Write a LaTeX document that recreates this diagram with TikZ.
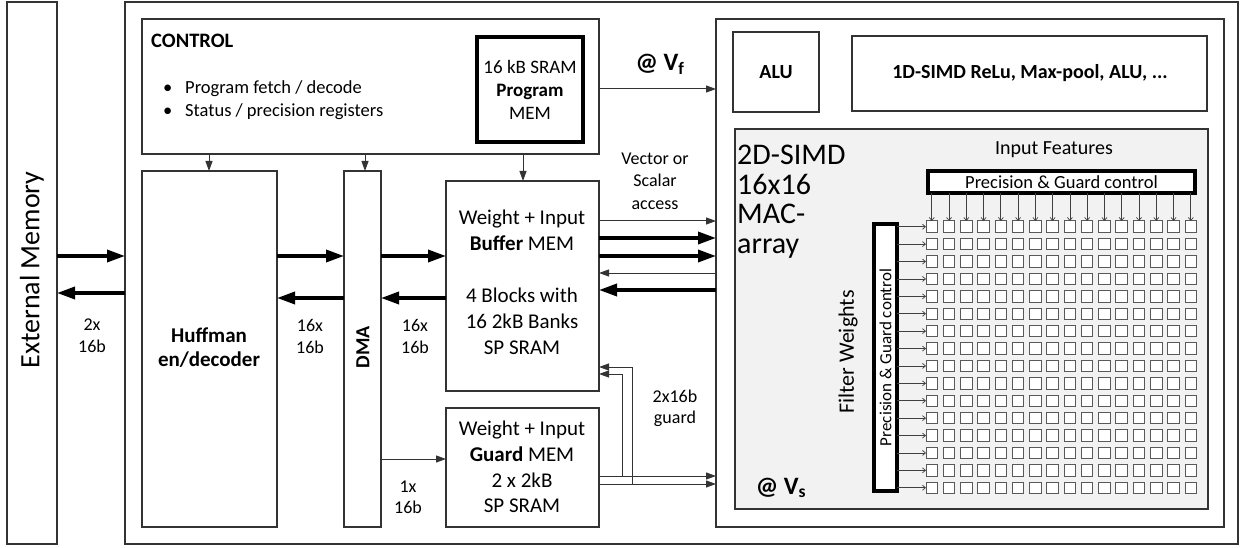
\documentclass[tikz,border=0pt]{standalone}
\usepackage{fontspec}
\setmainfont{Carlito}
\usetikzlibrary{arrows.meta}
\newcommand\fsz[2]{\fontsize{#1}{#2}\selectfont}
\definecolor{simdgray}{HTML}{F2F2F2}
\definecolor{linec}{HTML}{333333}
\begin{document}
\begin{tikzpicture}[x=1pt,y=-1pt,
  box/.style={draw=linec, line width=1.2pt, anchor=north west, inner sep=0pt, outer sep=0pt},
  thickbox/.style={draw=black, line width=4pt, anchor=north west, inner sep=0pt, outer sep=0pt, fill=white},
  txt/.style={inner sep=0pt, align=center},
  thin/.style={draw=linec, line width=1pt, -{Triangle[length=10pt,width=7pt]}},
  fat/.style={draw=black, line width=3.5pt, -{Triangle[length=18pt,width=12pt]}},
  garrow/.style={draw=black!75, line width=0.7pt, -{Straight Barb[length=3pt,width=5pt]}},
  cell/.style={draw=black!65, line width=1pt, fill=white, minimum size=11.5pt, inner sep=0pt, outer sep=0pt}
]
\useasboundingbox (0,0) rectangle (1245,548);
\fill[white] (0,0) rectangle (1245,548);

% main boxes
\node[box, minimum width=50pt, minimum height=542pt] (ext) at (7,2) {};
\node[box, minimum width=1113pt, minimum height=542pt] (main) at (125,2) {};
\node[box, minimum width=457pt, minimum height=135pt] (ctrl) at (142,19) {};
\node[thickbox, minimum width=106pt, minimum height=105pt] (prog) at (477,37) {};
\node[box, minimum width=135pt, minimum height=356pt] (huff) at (142,171) {};
\node[box, minimum width=37pt, minimum height=356pt] (dma) at (344,171) {};
\node[box, minimum width=153pt, minimum height=210pt] (buf) at (446,181) {};
\node[box, minimum width=153pt, minimum height=119pt] (guard) at (446,408) {};
\node[box, minimum width=508pt, minimum height=508pt] (right) at (716,19) {};
\node[box, minimum width=86pt, minimum height=80pt] (alu) at (733,32) {};
\node[box, minimum width=355pt, minimum height=75pt] (simdone) at (852,36) {};
\node[box, fill=simdgray, minimum width=473pt, minimum height=380pt] (simdtwo) at (735,129) {};
\node[thickbox, minimum width=267pt, minimum height=22pt] (hbar) at (928,171) {};
\node[thickbox, minimum width=23pt, minimum height=267pt] (vbar) at (874,224) {};

% texts
\node[txt, rotate=90, font=\fsz{28}{32}] (extt) at (32,270) {External Memory};
\node[txt, anchor=west, font=\fsz{20.5}{22}\bfseries] (ctrlt) at (151,41) {CONTROL};
\node[txt, anchor=west, font=\fsz{18.5}{22}] (b1) at (163,89) {\makebox[22pt][l]{\textbullet}Program fetch / decode};
\node[txt, anchor=west, font=\fsz{18.5}{22}] (b2) at (163,112) {\makebox[22pt][l]{\textbullet}Status / precision registers};
\node[txt, font=\fsz{19}{23}] (progt) at (530,90) {16 kB SRAM\\\textbf{Program}\\MEM};
\node[txt, font=\fsz{21}{24}\bfseries] (hufft) at (209,348) {Huffman\\en/decoder};
\node[txt, rotate=90, font=\fsz{20}{24}\bfseries] (dmat) at (363,347) {DMA};
\node[txt, font=\fsz{21}{26}] (buft) at (522,282) {Weight + Input\\\textbf{Buffer} MEM\\[26pt]4 Blocks with\\16 2kB Banks\\SP SRAM};
\node[txt, font=\fsz{21}{25.7}] (guardt) at (522,467) {Weight + Input\\\textbf{Guard} MEM\\2 x 2kB\\SP SRAM};
\node[txt, font=\fsz{20}{24}\bfseries] (alut) at (776,72) {ALU};
\node[txt, font=\fsz{20}{24}\bfseries] (simdonet) at (1030,73) {1D-SIMD ReLu, Max-pool, ALU, ...};
\node[txt, anchor=north west, align=left, font=\fsz{30}{29.5}] (simdtwot) at (737,145) {2D-SIMD\\16x16\\MAC-\\array};
\node[txt, font=\fsz{20}{24}] (inft) at (1054,150) {Input Features};
\node[txt, font=\fsz{18.5}{20}] (hbart) at (hbar.center) {Precision \& Guard control};
\node[txt, rotate=90, font=\fsz{17}{20}] (vbart) at (vbar.center) {Precision \& Guard control};
\node[txt, rotate=90, font=\fsz{22}{24}] (filt) at (848,352) {Filter Weights};
\node[txt, font=\fsz{25}{28}\bfseries] (vft) at (660,64) {@ V\textsubscript{f}};
\node[txt, font=\fsz{25}{28}\bfseries] (vst) at (781,488) {@ V\textsubscript{s}};
\node[txt, font=\fsz{18}{22}] (l1) at (92,336) {2x\\16b};
\node[txt, font=\fsz{18}{22}] (l2) at (310,336) {16x\\16b};
\node[txt, font=\fsz{18}{22}] (l3) at (415,336) {16x\\16b};
\node[txt, font=\fsz{18}{21}] (l4) at (408,497) {1x\\16b};
\node[txt, font=\fsz{18}{22.5}] (l5) at (655,181) {Vector or\\Scalar\\access};
\node[txt, font=\fsz{18}{21}] (l6) at (675,408) {2x16b\\guard};

% level coordinates
\coordinate (ya) at (0,256);
\coordinate (yb) at (0,293);
\coordinate (yc) at (0,298);
\coordinate (yd) at (0,459);
\coordinate (ye) at (0,89);
\coordinate (v1) at (0,221);
\coordinate (v2) at (0,238);
\coordinate (v3) at (0,256);
\coordinate (v4) at (0,273);
\coordinate (v5) at (0,290);
\coordinate (g1) at (0,476);
\coordinate (g2) at (0,484);
\coordinate (xa) at (209,0);
\coordinate (xb) at (365,0);
\coordinate (xc) at (523,0);
\coordinate (gx1) at (622,367);
\coordinate (gx2) at (632,374);
\coordinate (gin1) at (622,0);
\coordinate (gin2) at (632,0);

% external memory links
\draw[fat] (ext.east |- ya) -- (main.west |- ya);
\draw[fat] (main.west |- yb) -- (ext.east |- yb);
% huffman <-> dma
\draw[fat] (huff.east |- ya) -- (dma.west |- ya);
\draw[fat] (dma.west |- yc) -- (huff.east |- yc);
% dma <-> buffer
\draw[fat] (dma.east |- ya) -- (buf.west |- ya);
\draw[fat] (buf.west |- yc) -- (dma.east |- yc);
% dma -> guard
\draw[thin] (dma.east |- yd) -- (guard.west |- yd);
% control arrows
\draw[thin] (ctrl.south -| xa) -- (huff.north -| xa);
\draw[thin] (ctrl.south -| xb) -- (dma.north -| xb);
\draw[thin] (ctrl.south -| xc) -- (buf.north -| xc);
\draw[thin] (ctrl.east |- ye) -- (right.west |- ye);
% buffer <-> array
\draw[thin] (buf.east |- v1) -- (right.west |- v1);
\draw[fat] (buf.east |- v2) -- (right.west |- v2);
\draw[fat] (buf.east |- v3) -- (right.west |- v3);
\draw[thin] (right.west |- v4) -- (buf.east |- v4);
\draw[fat] (right.west |- v5) -- (buf.east |- v5);
% guard links
\draw[thin] (guard.east |- g1) -- (right.west |- g1);
\draw[thin] (guard.east |- g2) -- (right.west |- g2);
\draw[thin] (gin1 |- g1) -- (gin1 |- gx2) -- (buf.east |- gx2);
\draw[thin] (gin2 |- g2) -- (gin2 |- gx1) -- (buf.east |- gx1);

% MAC grid
\foreach \i in {0,...,15}{
  \foreach \j in {0,...,15}{
    \node[cell] (c\i-\j) at ({931.75+17.27*\i},{226.75+17.4*\j}) {};
  }
}
\foreach \i in {0,...,15}{
  \draw[garrow] (c\i-0.north |- hbar.south) -- (c\i-0.north);
}
\foreach \j in {0,...,15}{
  \draw[garrow] (vbar.east |- c0-\j.west) -- (c0-\j.west);
}
\end{tikzpicture}
\end{document}
